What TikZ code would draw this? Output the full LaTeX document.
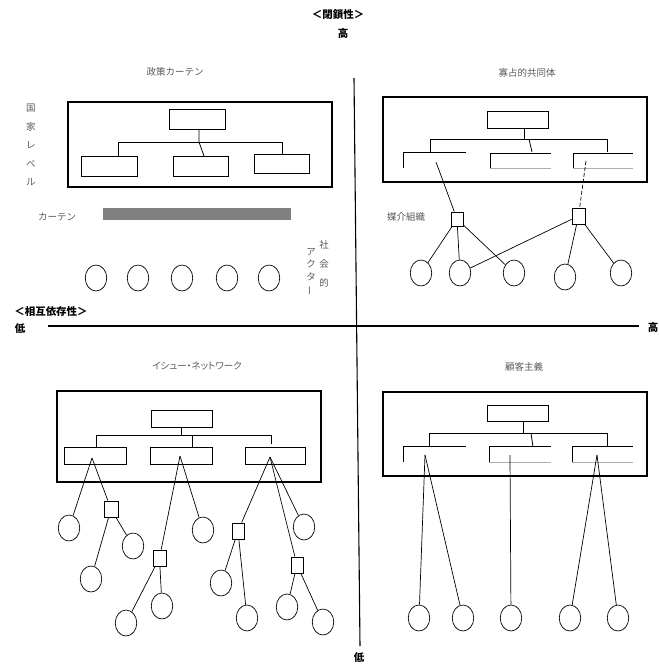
\documentclass[tikz,border=0pt]{standalone}
\usepackage{fontspec}
\usepackage{graphicx}
\usetikzlibrary{shapes.geometric}
\newfontfamily\jp{Noto Sans CJK JP}
\newfontfamily\jpprop{Noto Sans CJK JP}[RawFeature=+palt]
\definecolor{labelgray}{gray}{0.35}
\definecolor{barfill}{gray}{0.5}
\definecolor{thinrule}{gray}{0.68}

\begin{document}
\begin{tikzpicture}[x=1pt,y=-1pt,
  frame/.style={draw, line width=1.4pt, rectangle, inner sep=0},
  unit/.style={draw, line width=0.9pt, rectangle, inner sep=0},
  actor/.style={draw, ellipse, line width=0.7pt, minimum width=21.5pt, minimum height=26pt, inner sep=0},
  broker/.style={draw, rectangle, line width=0.8pt, minimum width=13pt, minimum height=15pt, inner sep=0},
  link/.style={line width=0.7pt},
  tie/.style={line width=0.8pt},
  faint/.style={draw=thinrule, line width=0.7pt},
  label/.style={font=\jp\fontsize{9.5}{11}\selectfont, text=labelgray, inner sep=0},
  column/.style={label, align=center},
  axislabel/.style={font=\jp\bfseries\fontsize{10.5}{12}\selectfont, inner sep=0},
  axis/.style={line width=1.1pt},
]
\useasboundingbox (0,0) rectangle (659,665);

% ---------------- axes ----------------
\coordinate (axTop) at (354,78);
\coordinate (axBot) at (360,646);
\coordinate (axLeft) at (48,326);
\coordinate (axRight) at (639,326);
\draw[axis] (axTop) -- (axBot);
\draw[axis] (axLeft) -- (axRight);
\node[axislabel] (closure) at (338,15) {＜閉鎖性＞};
\node[axislabel] (closeHi) at (343,34) {高};
\node[axislabel] (closeLo) at (359,658) {低};
\node[axislabel] (interdep) at (51,311) {＜相互依存性＞};
\node[axislabel] (depLo) at (20,329) {低};
\node[axislabel] (depHi) at (653,327) {高};

% ---------------- policy curtain (top left) ----------------
\node[label] (tlTitle) at (175,72) {政策カーテン};
\node[frame, minimum width=264pt, minimum height=85pt] (tlF) at (200,144.5) {};
\node[unit, minimum width=56pt, minimum height=20pt] (tlT) at (197,119) {};
\node[unit, minimum width=56pt, minimum height=20pt] (tlL) at (109,166) {};
\node[unit, minimum width=55pt, minimum height=20pt] (tlM) at (200.5,166) {};
\node[unit, minimum width=55pt, minimum height=19pt] (tlR) at (281.5,163.5) {};
\coordinate (tlJ) at (199,142);
\coordinate (tlJm) at (204,156);
\coordinate (tlH1) at (118,142);
\coordinate (tlH2) at (282,142);
\draw[tie] (tlT.south -| tlJ) -- (tlJ) -- (tlJm);
\draw[tie] (tlH1 |- tlL.north) -- (tlH1) -- (tlH2) -- (tlH2 |- tlR.north);
\node[column, font=\jp\fontsize{9.5}{18.5}\selectfont] (tlState) at (31,145) {国\\家\\レ\\ベ\\ル};
\node[label] (tlCurtainLbl) at (57,217) {カーテン};
\node[fill=barfill, minimum width=188pt, minimum height=12pt, inner sep=0] (tlBar) at (197,214) {};
\foreach \x [count=\i] in {96,138,182,227,269}
  \node[actor] (tlA\i) at (\x,278) {};
\node[column, font=\jp\fontsize{9.5}{19}\selectfont] (tlSoc) at (324,264) {社\\会\\的};
\node[column, font=\jp\fontsize{9.5}{12.7}\selectfont] (tlAct) at (311,272)
  {ア\\ク\\タ\\\rotatebox[origin=c]{90}{ー}};

% ---------------- oligopolistic community (top right) ----------------
\node[label] (trTitle) at (527,73) {寡占的共同体};
\node[frame, minimum width=264pt, minimum height=85pt] (trF) at (515,139.5) {};
\node[unit, minimum width=61pt, minimum height=17pt] (trT) at (517.5,119.5) {};
\coordinate (trJ) at (524,139);
\coordinate (trJs) at (529,139);
\coordinate (trJm) at (532,152);
\coordinate (trH1) at (430,139);
\coordinate (trH2) at (607,139);
\draw[tie] (trT.south -| trJ) -- (trJ);
\draw[tie] (trJs) -- (trJm);
\draw[tie] (trH1) ++(0,13) -- (trH1) -- (trH2) -- ++(0,13);
% open unit frames
\draw[tie] (403,168) -- (403,152) -- (466,152);
\draw[tie] (490,168) -- (490,153) -- (551,153);
\draw[faint] (490,168) -- (551,168);
\draw[tie] (573,168) -- (573,153) -- (633,153);
\draw[faint] (573,168) -- (633,168);
\coordinate (trPL) at (436,162);
\coordinate (trPR) at (586,161);
\node[broker, minimum width=12pt, minimum height=14pt] (trB1) at (457,219) {};
\node[broker, minimum width=13pt, minimum height=16pt] (trB2) at (578.5,216) {};
\node[label] (trMedLbl) at (406,217) {媒介組織};
\draw[link] (trPL) -- (trB1);
\draw[link, dash pattern=on 4pt off 2pt] (trPR) -- (trB2);
\node[actor] (trA1) at (421,273) {};
\node[actor] (trA2) at (460,273) {};
\node[actor] (trA3) at (514,273) {};
\node[actor] (trA4) at (565,277) {};
\node[actor] (trA5) at (621,273) {};
\draw[link] (trB1) -- (trA1);
\draw[link] (trB1) -- (trA2);
\draw[link] (trB1) -- (trA3);
\draw[link] (trB2) -- (trA2);
\draw[link] (trB2) -- (trA4);
\draw[link] (trB2) -- (trA5);

% ---------------- issue network (bottom left) ----------------
\node[label, font=\jpprop\fontsize{9.5}{11}\selectfont] (blTitle) at (197,366) {イシュー・ネットワーク};
\node[frame, minimum width=264pt, minimum height=91pt] (blF) at (189,436.5) {};
\node[unit, minimum width=61pt, minimum height=17pt] (blT) at (181.5,418.5) {};
\node[unit, minimum width=62pt, minimum height=17pt] (blL) at (95,455.5) {};
\node[unit, minimum width=62pt, minimum height=17pt] (blM) at (181,455.5) {};
\node[unit, minimum width=60pt, minimum height=17pt] (blR) at (275,455.5) {};
\coordinate (blJ) at (181,435);
\coordinate (blK) at (192,435);
\coordinate (blH1) at (96,435);
\coordinate (blH2) at (271,435);
\draw[tie] (blT.south -| blJ) -- (blJ);
\draw[tie] (blH1 |- blL.north) -- (blH1) -- (blH2) -- ++(0,9);
\draw[tie] (blK) -- (blK |- blM.north);
\coordinate (blPL) at (92,458);
\coordinate (blPM) at (180,456);
\coordinate (blPR) at (270,457);
\node[broker, minimum width=14pt, minimum height=16pt] (blB1) at (111,509) {};
\node[broker, minimum width=13pt, minimum height=16pt] (blB2) at (159.5,558) {};
\node[broker, minimum width=12pt, minimum height=16pt] (blB3) at (238,531) {};
\node[broker, minimum width=12pt, minimum height=16pt] (blB4) at (297,565) {};
\node[actor] (blA1) at (69,528) {};
\node[actor] (blA2) at (133,546) {};
\node[actor] (blA3) at (91,579) {};
\node[actor] (blA4) at (203,530) {};
\node[actor] (blA5) at (126,623) {};
\node[actor] (blA6) at (162,606) {};
\node[actor] (blA7) at (304,527) {};
\node[actor] (blA8) at (221,583) {};
\node[actor] (blA9) at (247,618) {};
\node[actor] (blA10) at (287,607) {};
\node[actor] (blA11) at (323,622) {};
\draw[link] (blPL) -- (blA1);
\draw[link] (blPL) -- (blB1);
\draw[link] (blB1) -- (blA2);
\draw[link] (blB1) -- (blA3);
\draw[link] (blPM) -- (blB2);
\draw[link] (blPM) -- (blA4);
\draw[link] (blB2) -- (blA5);
\draw[link] (blB2) -- (blA6);
\draw[link] (blPR) -- (blB3);
\draw[link] (blPR) -- (blB4);
\draw[link] (blPR) -- (blA7);
\draw[link] (blB3) -- (blA8);
\draw[link] (blB3) -- (blA9);
\draw[link] (blB4) -- (blA10);
\draw[link] (blB4) -- (blA11);

% ---------------- clientelism (bottom right) ----------------
\node[label] (brTitle) at (524,367) {顧客主義};
\node[frame, minimum width=264pt, minimum height=84pt] (brF) at (515,434) {};
\node[unit, minimum width=61pt, minimum height=16pt] (brT) at (517.5,413) {};
\coordinate (brJ) at (523,433);
\coordinate (brJs) at (531,433);
\coordinate (brJm) at (533,447);
\coordinate (brH1) at (429,433);
\coordinate (brH2) at (607,433);
\draw[tie] (brT.south -| brJ) -- (brJ);
\draw[tie] (brJs) -- (brJm);
\draw[tie] (brH1) ++(0,13) -- (brH1) -- (brH2) -- ++(0,13);
% open unit frames
\draw[tie] (403,462) -- (403,446) -- (466,446);
\draw[tie] (489,462) -- (489,446) -- (551,446);
\draw[faint] (489,462) -- (551,462);
\draw[tie] (572,462) -- (572,446) -- (633,446);
\draw[faint] (572,462) -- (633,462);
\coordinate (brPL) at (425,455);
\coordinate (brPM) at (510,455);
\coordinate (brPR) at (597,455);
\foreach \x [count=\i] in {419,463,511,570,618}
  \node[actor] (brA\i) at (\x,618) {};
\draw[link] (brPL) -- (brA1);
\draw[link] (brPL) -- (brA2);
\draw[link] (brPM) -- (brA3);
\draw[link] (brPR) -- (brA4);
\draw[link] (brPR) -- (brA5);
\end{tikzpicture}
\end{document}
